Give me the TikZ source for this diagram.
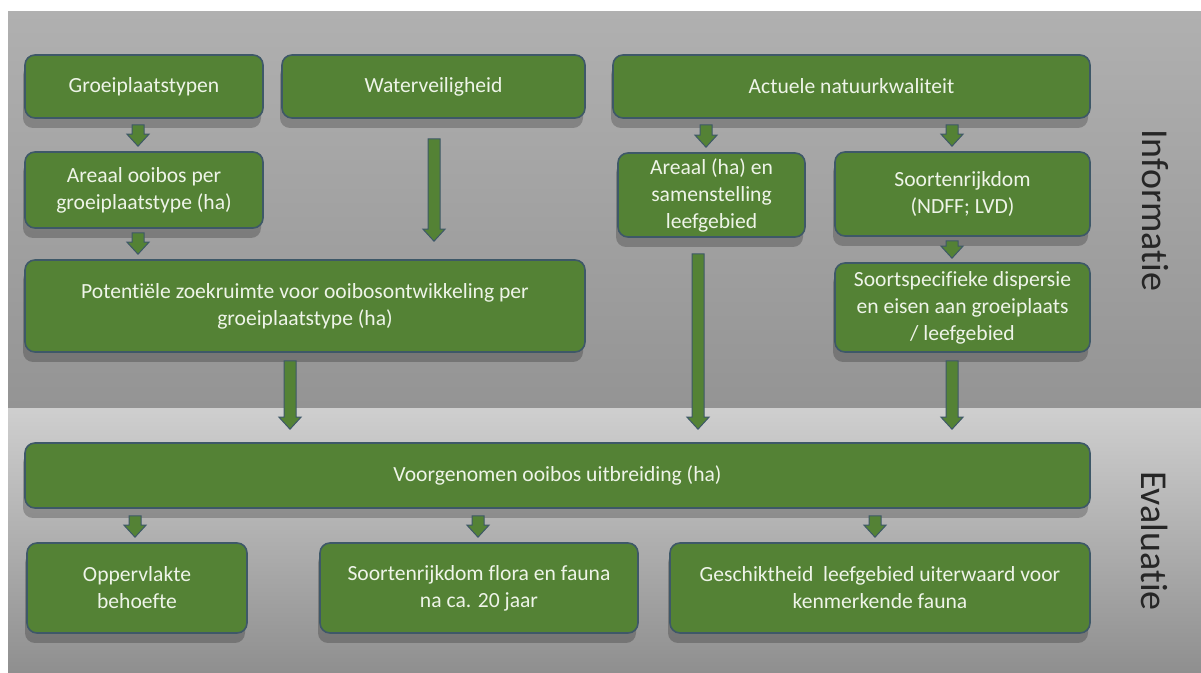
\documentclass[tikz,border=0pt]{standalone}
\usepackage{fontspec}
\setmainfont{Carlito}[Ligatures=CommonOff]
\usepackage{tikz}
\usetikzlibrary{calc,shadows}
\definecolor{boxgreen}{RGB}{84,130,53}
\definecolor{boxline}{RGB}{62,88,104}
\definecolor{boxtext}{RGB}{238,244,232}
\tikzstyle{box} = [draw=boxline, line width=0.8pt, fill=boxgreen, rounded corners=5pt,
  text=boxtext, align=center, inner sep=2pt,
  font=\fontsize{10.8}{13.5}\selectfont,
  drop shadow={shadow xshift=-1pt, shadow yshift=-5pt, opacity=0.22, fill=black}]
\tikzstyle{arrowshape} = [draw=boxline, line width=0.5pt, fill=boxgreen, line join=miter]
\tikzstyle{side} = [rotate=-90, text=black!85, font=\fontsize{19}{23}\selectfont]
% block arrow, straight down from #1 to #2
\newcommand{\blockarrow}[2]{%
  \path[arrowshape] let \p1=(#1), \p2=(#2) in
    (\x1-3pt,\y1) -- (\x1+3pt,\y1) -- (\x1+3pt,\y2+6pt) -- (\x1+5.5pt,\y2+6pt)
    -- (\x1,\y2) -- (\x1-5.5pt,\y2+6pt) -- (\x1-3pt,\y2+6pt) -- cycle;}

\begin{document}
\begin{tikzpicture}[x=0.5pt, y=-0.5pt]
      \useasboundingbox (0,0) rectangle (1201,673);
      \fill[white] (0,0) rectangle (1201,673);

      % bands
      \shade[top color=black!31, bottom color=black!42] (8,12) rectangle (1201,409);
      \shade[top color=black!19, middle color=black!24, bottom color=black!44] (8,409) rectangle (1201,673);

      \node (info) at (1155,210) [side] {Informatie};
      \node (eval) at (1155,541) [side] {Evaluatie};

      % informatie
      \node (gpt) at (144,86.5) [box, minimum width=119pt, minimum height=31.5pt] {Groeiplaatstypen};
      \node (wv) at (433.5,86.5) [box, minimum width=151.5pt, minimum height=31.5pt] {Waterveiligheid};
      \node (anq) at (851.5,86.5) [box, minimum width=238.5pt, minimum height=31.5pt] {Actuele natuurkwaliteit};
      \node (aog) at (144,190) [box, minimum width=119pt, minimum height=38pt] {Areaal ooibos per\\groeiplaatstype (ha)};
      \node (pzr) at (305,306) [box, minimum width=280pt, minimum height=46pt] {Potentiële zoekruimte voor ooibosontwikkeling per\\groeiplaatstype (ha)};
      \node (asl) at (711.5,195) [box, minimum width=93.5pt, minimum height=42pt] {Areaal (ha) en\\samenstelling\\leefgebied};
      \node (srd) at (962.5,194) [box, minimum width=127.5pt, minimum height=42pt] {Soortenrijkdom\\(NDFF; LVD)};
      \node (ssd) at (962.5,307.5) [box, minimum width=127.5pt, minimum height=44.5pt] {Soortspecifieke dispersie\\en eisen aan groeiplaats\\/ leefgebied};

      % evaluatie
      \node (vob) at (557.5,475.5) [box, minimum width=532.5pt, minimum height=32.5pt] {Voorgenomen ooibos uitbreiding (ha)};
      \node (opb) at (137,588) [box, minimum width=110pt, minimum height=45pt] {Oppervlakte\\behoefte};
      \node (srf) at (479,588) [box, minimum width=159pt, minimum height=45pt] {Soortenrijkdom flora en fauna\\na ca. 20 jaar};
      \node (glu) at (880,588) [box, minimum width=210pt, minimum height=45pt] {Geschiktheid\ \ leefgebied uiterwaard voor\\kenmerkende fauna};

      \blockarrow{$(gpt.south)+(-6,6)$}{$(aog.north)+(0,-5)$}
      \blockarrow{$(aog.south)+(-6,4)$}{$(pzr.north)+(0,-5)$}
      \blockarrow{$(wv.south)+(0.5,20)$}{$(pzr.north)+(0,-18)$}
      \blockarrow{$(anq.south -| asl)+(-5.5,6)$}{$(asl.north)+(0,-5)$}
      \blockarrow{$(anq.south -| srd)+(-10.5,6)$}{$(srd.north)+(0,-5)$}
      \blockarrow{$(srd.south)+(-10.5,4)$}{$(ssd.north)+(0,-4)$}
      \blockarrow{$(pzr.south)+(-15,8)$}{$(vob.north)+(0,-13)$}
      \blockarrow{$(asl.south)+(-13.5,16)$}{$(vob.north)+(0,-13)$}
      \blockarrow{$(ssd.south)+(-10.5,8)$}{$(vob.north)+(0,-13)$}
      \blockarrow{$(vob.south -| opb)+(-2,7)$}{$(opb.north)+(0,-5)$}
      \blockarrow{$(vob.south -| srf)+(-1,7)$}{$(srf.north)+(0,-5)$}
      \blockarrow{$(vob.south -| glu)+(-5,7)$}{$(glu.north)+(0,-5)$}
    \end{tikzpicture}
\end{document}
